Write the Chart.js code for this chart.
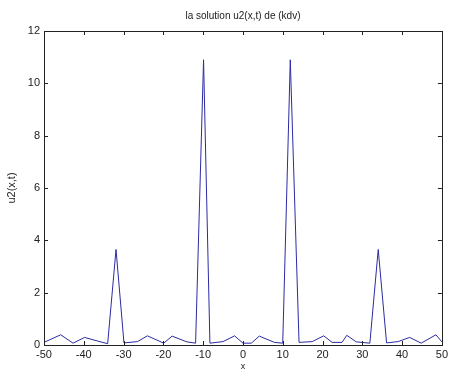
<!DOCTYPE html>
<html>
<head>
<meta charset="utf-8">
<script src="https://cdn.jsdelivr.net/npm/chart.js@4"></script>
<style>
  html, body { margin: 0; padding: 0; background: #fff; }
  #wrap { width: 451px; height: 374px; }
</style>
</head>
<body>
<div id="wrap"><canvas id="kdvChart" width="451" height="374"></canvas></div>
<script>
// valeurs
const xValues = [-50, -45.8, -42.7, -39.8, -36.5, -34.0, -31.9, -29.9, -26.5, -24.0, -19.9, -17.8, -14.1, -11.9, -9.9, -8.3, -5.0, -2.1, 0.0, 2.1, 4.1, 7.9, 10.0, 11.9, 14.1, 17.4, 20.3, 22.4, 24.9, 26.1, 28.5, 31.9, 34.0, 36.1, 39.0, 41.9, 44.8, 48.5, 50];
const uValues = [0.10, 0.39, 0.07, 0.29, 0.15, 0.05, 3.65, 0.08, 0.13, 0.35, 0.07, 0.34, 0.12, 0.07, 10.9, 0.07, 0.13, 0.35, 0.07, 0.07, 0.34, 0.10, 0.07, 10.9, 0.10, 0.13, 0.35, 0.10, 0.10, 0.37, 0.12, 0.07, 3.65, 0.08, 0.13, 0.29, 0.07, 0.39, 0.12];
const xTicks = [-50, -40, -30, -20, -10, 0, 10, 20, 30, 40, 50];
const yTicks = [0, 2, 4, 6, 8, 10, 12];

const titleText = "la solution u2(x,t) de (kdv)";
const xLabel = "x";
const yLabel = "u2(x,t)";

const points = xValues.map(function(x, i) { return { x: x, y: uValues[i] }; });

// cadre + graduations vers l'intérieur, titres (style matlab)
const matlabAxes = {
    id: "matlabAxes",
    afterDraw: function(chart) {
        const c = chart.ctx;
        const a = chart.chartArea;
        const xs = chart.scales.x;
        const ys = chart.scales.y;
        c.save();
        c.strokeStyle = "#222";
        c.lineWidth = 1;
        c.strokeRect(Math.round(a.left) + 0.5, Math.round(a.top) + 0.5, Math.round(a.right - a.left), Math.round(a.bottom - a.top));
        c.beginPath();
        xTicks.forEach(function(t) {
            const px = Math.round(xs.getPixelForValue(t)) + 0.5;
            c.moveTo(px, a.bottom); c.lineTo(px, a.bottom - 4);
            c.moveTo(px, a.top); c.lineTo(px, a.top + 4);
        });
        yTicks.forEach(function(t) {
            const py = Math.round(ys.getPixelForValue(t)) + 0.5;
            c.moveTo(a.left, py); c.lineTo(a.left + 4, py);
            c.moveTo(a.right, py); c.lineTo(a.right - 4, py);
        });
        c.stroke();

        c.fillStyle = "#222";
        c.font = "10px 'Liberation Sans', Arial, sans-serif";
        c.textAlign = "center";
        c.textBaseline = "middle";
        const cx = (a.left + a.right) / 2;
        c.fillText(titleText, cx, 16);
        c.font = "9px 'Liberation Sans', Arial, sans-serif";
        c.fillText(xLabel, cx, 367);
        c.font = "11px 'Liberation Sans', Arial, sans-serif";
        c.translate(12, (a.top + a.bottom) / 2);
        c.rotate(-Math.PI / 2);
        c.fillText(yLabel, 0, 0);
        c.restore();
    }
};

const ctx = document.getElementById("kdvChart").getContext("2d");

const kdvChart = new Chart(ctx, {
    type: "scatter",
    data: {
        datasets: [{
            label: yLabel,
            data: points,
            showLine: true,
            borderColor: "#2b2ba3",
            borderWidth: 1,
            pointRadius: 0,
            tension: 0
        }]
    },
    options: {
        responsive: false,
        animation: false,
        layout: { padding: { left: 0, right: 5, top: 31, bottom: 0 } },
        plugins: {
            legend: { display: false },
            tooltip: { enabled: false }
        },
        scales: {
            x: {
                type: "linear",
                min: -50,
                max: 50,
                afterBuildTicks: function(axis) { axis.ticks = xTicks.map(function(v) { return { value: v }; }); },
                afterFit: function(axis) { axis.height = 29; },
                grid: { display: false, drawTicks: false },
                border: { display: false },
                ticks: {
                    padding: 3,
                    maxRotation: 0,
                    color: "#222",
                    font: { family: "'Liberation Sans', Arial, sans-serif", size: 11 }
                }
            },
            y: {
                type: "linear",
                min: 0,
                max: 12,
                afterBuildTicks: function(axis) { axis.ticks = yTicks.map(function(v) { return { value: v }; }); },
                afterFit: function(axis) { axis.width = 44; },
                grid: { display: false, drawTicks: false },
                border: { display: false },
                ticks: {
                    padding: 4,
                    color: "#222",
                    font: { family: "'Liberation Sans', Arial, sans-serif", size: 11 }
                }
            }
        }
    },
    plugins: [matlabAxes]
});
</script>
</body>
</html>
